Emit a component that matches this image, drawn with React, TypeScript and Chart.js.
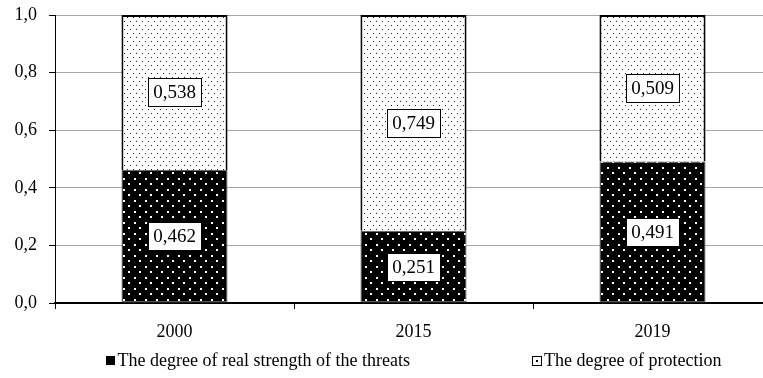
import React, { useEffect, useRef } from "react";
import { Chart, registerables } from "chart.js";

Chart.register(...registerables);

const categories = ["2000", "2015", "2019"];
const threatsValues = [0.462, 0.251, 0.491];
const protectionValues = [0.538, 0.749, 0.509];
const seriesNames = ["The degree of real strength of the threats", "The degree of protection"];
const yTicks = [0, 0.2, 0.4, 0.6, 0.8, 1.0];

const FONT = "'Liberation Serif', 'Times New Roman', serif";

function makeDarkPattern(): CanvasPattern | string {
  const c = document.createElement("canvas");
  c.width = 11;
  c.height = 11;
  const g = c.getContext("2d");
  if (!g) return "#000";
  g.fillStyle = "#000";
  g.fillRect(0, 0, 11, 11);
  g.fillStyle = "#fff";
  g.fillRect(2, 2, 2, 2);
  g.fillRect(7, 7, 2, 2);
  const p = g.createPattern(c, "repeat");
  return p || "#000";
}

function makeLightPattern(): CanvasPattern | string {
  const c = document.createElement("canvas");
  c.width = 6;
  c.height = 8;
  const g = c.getContext("2d");
  if (!g) return "#fff";
  g.fillStyle = "#fff";
  g.fillRect(0, 0, 6, 8);
  g.fillStyle = "#222";
  g.fillRect(1, 1, 1, 1);
  g.fillRect(4, 5, 1, 1);
  const p = g.createPattern(c, "repeat");
  return p || "#fff";
}

const fmt = (v: number, d: number) => v.toFixed(d).replace(".", ",");

const labelPlugin = {
  id: "boxLabels",
  afterDatasetsDraw(chart: any) {
    const ctx = chart.ctx;
    ctx.save();
    ctx.font = `19px ${FONT}`;
    ctx.textAlign = "center";
    ctx.textBaseline = "middle";
    chart.data.datasets.forEach((ds: any, di: number) => {
      const meta = chart.getDatasetMeta(di);
      meta.data.forEach((bar: any, i: number) => {
        const v = ds.data[i];
        const text = fmt(v, 3);
        const cx = bar.x;
        const cy = (bar.y + bar.base) / 2;
        const w = Math.round(ctx.measureText(text).width + 10);
        const h = 28;
        const x0 = Math.round(cx - w / 2) + 0.5;
        const y0 = Math.round(cy - h / 2) + 0.5;
        ctx.fillStyle = "#fff";
        ctx.fillRect(x0, y0, w, h);
        ctx.strokeStyle = "#000";
        ctx.lineWidth = 1;
        ctx.strokeRect(x0, y0, w, h);
        ctx.fillStyle = "#000";
        ctx.fillText(text, cx, cy + 1);
      });
    });
    ctx.restore();
  },
};

const legendPlugin = {
  id: "customLegend",
  afterDraw(chart: any) {
    const ctx = chart.ctx;
    const area = chart.chartArea;
    ctx.save();
    ctx.font = `18px ${FONT}`;
    ctx.textBaseline = "middle";
    ctx.textAlign = "left";
    const box = 9;
    const gapBox = 3;
    const gap = 122;
    const w1 = box + gapBox + ctx.measureText(seriesNames[0]).width;
    const w2 = box + gapBox + ctx.measureText(seriesNames[1]).width;
    const center = (area.left + area.right) / 2;
    let x = center - (w1 + gap + w2) / 2;
    const y = 361;
    ctx.fillStyle = "#000";
    ctx.fillRect(Math.round(x), y - 5, box, box);
    ctx.fillText(seriesNames[0], x + box + gapBox, y);
    x += w1 + gap;
    ctx.fillStyle = "#fff";
    ctx.fillRect(Math.round(x) + 0.5, y - 4.5, box, box);
    ctx.strokeStyle = "#000";
    ctx.lineWidth = 1;
    ctx.strokeRect(Math.round(x) + 0.5, y - 4.5, box, box);
    ctx.fillStyle = "#000";
    ctx.fillRect(Math.round(x) + 4, y - 1, 2, 2);
    ctx.fillText(seriesNames[1], x + box + gapBox, y);
    ctx.restore();
  },
};

export default function App() {
  const ref = useRef<HTMLCanvasElement | null>(null);
  useEffect(() => {
    if (!ref.current) return;
    const dark = makeDarkPattern();
    const light = makeLightPattern();
    const chart = new Chart(ref.current, {
      type: "bar",
      data: {
        labels: categories,
        datasets: [
          {
            label: seriesNames[0],
            data: threatsValues,
            backgroundColor: dark as any,
            borderColor: "#666",
            borderWidth: 1,
            borderSkipped: false,
            barPercentage: 0.444,
            categoryPercentage: 1,
          },
          {
            label: seriesNames[1],
            data: protectionValues,
            backgroundColor: light as any,
            borderColor: "#000",
            borderWidth: 2,
            borderSkipped: "start",
            barPercentage: 0.444,
            categoryPercentage: 1,
          },
        ],
      },
      options: {
        responsive: false,
        animation: false,
        events: [],
        layout: { padding: { top: 15, right: 0, bottom: 40, left: 0 } },
        plugins: {
          legend: { display: false },
          tooltip: { enabled: false },
        },
        scales: {
          x: {
            stacked: true,
            offset: true,
            grid: {
              offset: true,
              drawOnChartArea: false,
              drawTicks: true,
              tickLength: 6,
              tickColor: "#000",
              tickWidth: 1,
            },
            border: { color: "#000", width: 2 },
            ticks: {
              color: "#000",
              padding: 12,
              font: { family: FONT, size: 18 },
            },
            afterFit(scale: any) {
              scale.height = 35;
              scale.paddingLeft = 0;
              scale.paddingRight = 0;
            },
          },
          y: {
            stacked: true,
            min: 0,
            max: 1,
            afterBuildTicks(scale: any) {
              scale.ticks = yTicks.map((v) => ({ value: v }));
            },
            grid: {
              color: "#a6a6a6",
              lineWidth: 1,
              tickLength: 6,
              tickColor: "#000",
            },
            border: { color: "#000", width: 1 },
            ticks: {
              color: "#000",
              padding: 12,
              font: { family: FONT, size: 18 },
              callback: (v: any) => fmt(Number(v), 1),
            },
            afterFit(scale: any) {
              scale.width = 55;
              scale.paddingTop = 0;
              scale.paddingBottom = 0;
            },
          },
        },
      },
      plugins: [labelPlugin, legendPlugin],
    });
    return () => chart.destroy();
  }, []);
  return (
    <div
      style={{
        position: "fixed",
        left: 0,
        top: 0,
        width: 763,
        height: 378,
        overflow: "hidden",
        background: "#fff",
      }}
    >
      <canvas ref={ref} width={772} height={378} style={{ display: "block" }} />
    </div>
  );
}
